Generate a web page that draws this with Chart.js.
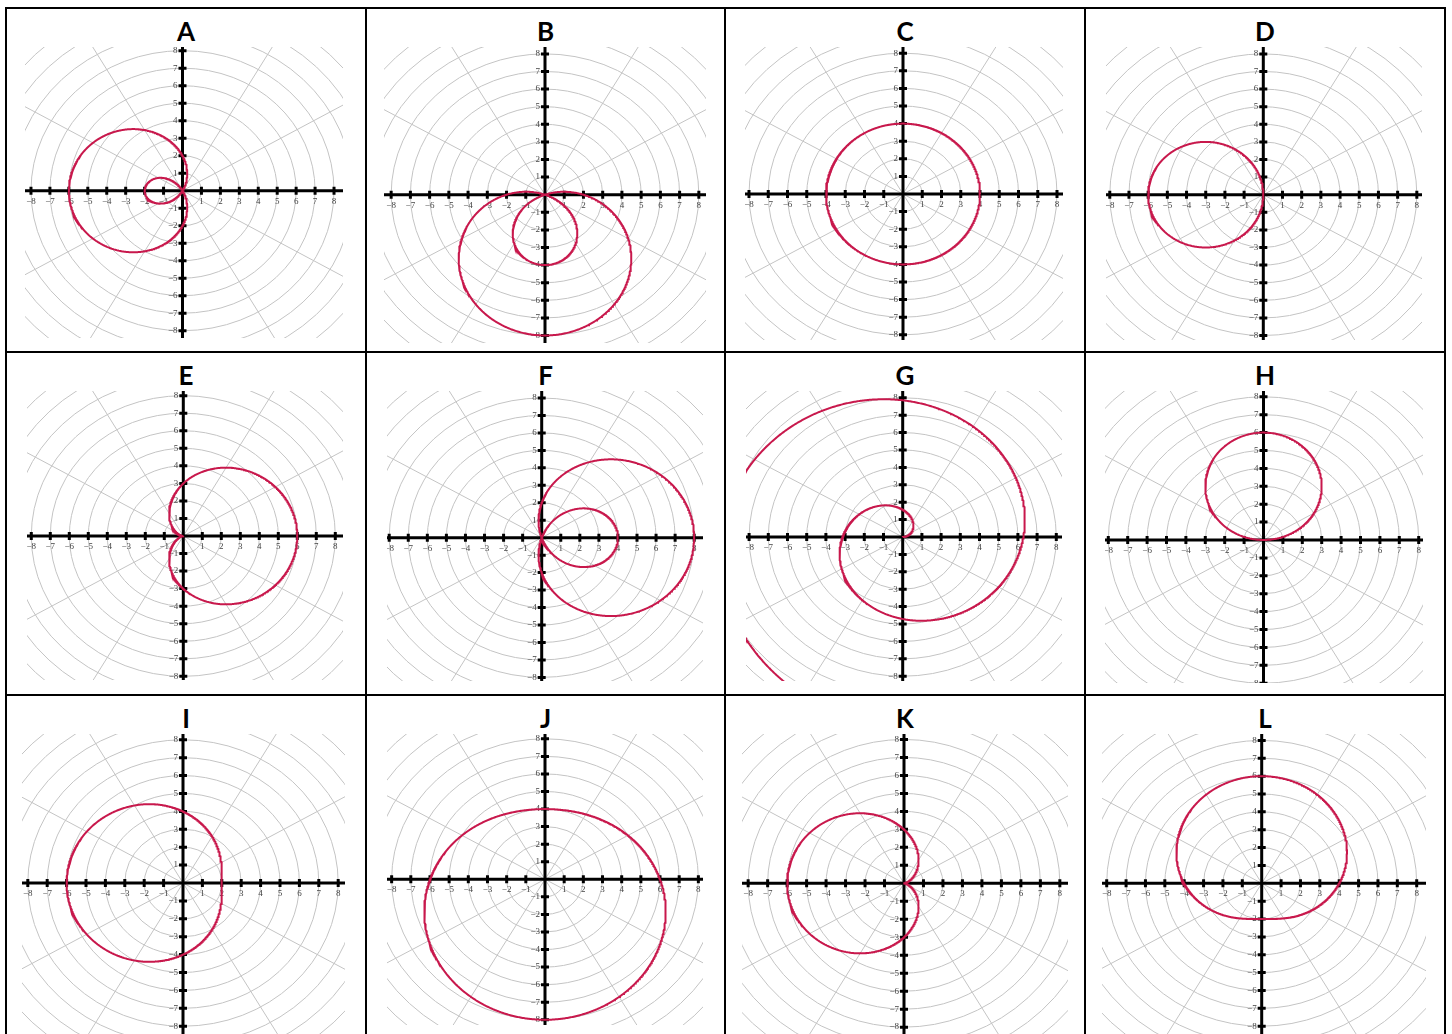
<!DOCTYPE html>
<html>
<head>
<meta charset="utf-8">
<script src="https://cdn.jsdelivr.net/npm/chart.js@4/dist/chart.umd.min.js"></script>
<style>
  html, body { margin: 0; padding: 0; background: #fff; }
  #sheet { position: relative; width: 1452px; height: 1034px; overflow: hidden; background: #fff; }
  .rule { position: absolute; background: #000; }
  .letter { position: absolute; width: 360px; text-align: center; font-family: Lato, "Open Sans", sans-serif;
            font-weight: 700; font-size: 26px; line-height: 26px; color: #000; }
  canvas { position: absolute; }
</style>
</head>
<body>
<div id="sheet"></div>
<script>
// Panel names, read across the rows
const panelLetters = ['A', 'B', 'C', 'D', 'E', 'F', 'G', 'H', 'I', 'J', 'K', 'L'];

// Each curve is r = c + p·cosθ + q·sinθ + k·θ, traced over the given number of turns
const rConstant = [2, 2, 4, 0, 3, 2, 0, 0, 4, 6, 3, 4];
const rCosine   = [-4, 0, 0, -6, 3, 6, 0, 0, -2, 0, -3, 0];
const rSine     = [0, -6, 0, 0, 0, 0, 0, 6, 0, -2, 0, 2];
const rTheta    = [0, 0, 0, 0, 0, 0, 1, 0, 0, 0, 0, 0];
const sweepTurns = [1, 1, 1, 1, 1, 1, 2, 1, 1, 1, 1, 1];

// Polar paper: rings and spokes, plus the integer ticks on both axes
const gridRadii = [1, 2, 3, 4, 5, 6, 7, 8, 9, 10, 11, 12];
const spokeDegrees = [0, 30, 60, 90, 120, 150, 180, 210, 240, 270, 300, 330];
const axisTicks = [-8, -7, -6, -5, -4, -3, -2, -1, 1, 2, 3, 4, 5, 6, 7, 8];
const axisTickLabels = ['−8', '−7', '−6', '−5', '−4', '−3', '−2', '−1', '1', '2', '3', '4', '5', '6', '7', '8'];

// Where each plot sits on the sheet: [left, top, right, bottom, originX, originY, pxPerUnitX, pxPerUnitY]
const panelFrames = [
  [25, 47, 343, 338, 182.5, 190.7, 18.94, 17.5],
  [384, 47, 706, 343, 545, 194.7, 19.23, 17.6],
  [745, 47, 1063, 340, 903, 194, 19.25, 17.6],
  [1106, 47, 1422, 340, 1263.3, 194.7, 19.19, 17.6],
  [27, 391, 343, 680, 183.3, 536, 19.0, 17.54],
  [387, 391, 703, 681, 541.7, 537.7, 19.06, 17.46],
  [746, 391, 1062, 681, 902.7, 537, 19.2, 17.4],
  [1105, 391, 1423, 683, 1263.5, 540, 19.4, 17.9],
  [22, 734, 345, 1034, 183, 883, 19.4, 17.9],
  [387, 734, 703, 1025, 545, 879.3, 19.17, 17.56],
  [742, 734, 1068, 1034, 904, 883.3, 19.48, 17.98],
  [1102, 734, 1426, 1034, 1261.7, 883.3, 19.375, 17.86]
];

const columnRules = [5, 365, 724, 1084, 1444];
const rowRules = [7, 351, 694];
const letterTops = [18, 362, 705];

const curveColor = '#c8184c';
const paperColor = '#c4c4c4';

const sheet = document.getElementById('sheet');

// Table rules
columnRules.forEach(x => {
  const d = document.createElement('div');
  d.className = 'rule';
  Object.assign(d.style, { left: x + 'px', top: rowRules[0] + 'px', width: '2px', height: (1034 - rowRules[0]) + 'px' });
  sheet.appendChild(d);
});
rowRules.forEach(y => {
  const d = document.createElement('div');
  d.className = 'rule';
  Object.assign(d.style, { left: columnRules[0] + 'px', top: y + 'px', width: (columnRules[4] - columnRules[0] + 2) + 'px', height: '2px' });
  sheet.appendChild(d);
});

// Draws rings, spokes, axes and tick labels beneath the curves
const polarPaper = {
  id: 'polarPaper',
  beforeDatasetsDraw(chart) {
    const { ctx, chartArea: a, scales: { x, y } } = chart;
    const cx = x.getPixelForValue(0), cy = y.getPixelForValue(0);
    const ux = x.getPixelForValue(1) - cx, uy = cy - y.getPixelForValue(1);
    ctx.save();
    ctx.beginPath();
    ctx.rect(a.left, a.top, a.right - a.left, a.bottom - a.top);
    ctx.clip();

    ctx.strokeStyle = paperColor;
    ctx.lineWidth = 1;
    gridRadii.forEach(r => {
      ctx.beginPath();
      ctx.ellipse(cx, cy, r * ux, r * uy, 0, 0, Math.PI * 2);
      ctx.stroke();
    });
    spokeDegrees.forEach(deg => {
      const t = deg * Math.PI / 180;
      ctx.beginPath();
      ctx.moveTo(cx, cy);
      ctx.lineTo(x.getPixelForValue(20 * Math.cos(t)), y.getPixelForValue(20 * Math.sin(t)));
      ctx.stroke();
    });

    ctx.strokeStyle = '#000';
    ctx.lineWidth = 3;
    ctx.beginPath();
    ctx.moveTo(a.left, cy); ctx.lineTo(a.right, cy);
    ctx.moveTo(cx, a.top); ctx.lineTo(cx, a.bottom);
    ctx.stroke();

    ctx.lineWidth = 3;
    ctx.beginPath();
    axisTicks.forEach(v => {
      const px = x.getPixelForValue(v);
      ctx.moveTo(px, cy - 4); ctx.lineTo(px, cy + 4);
      const py = y.getPixelForValue(v);
      ctx.moveTo(cx - 4, py); ctx.lineTo(cx + 4, py);
    });
    ctx.stroke();

    ctx.fillStyle = '#444';
    ctx.font = '9px "Liberation Serif", serif';
    ctx.textAlign = 'center';
    ctx.textBaseline = 'top';
    axisTicks.forEach((v, i) => {
      ctx.fillText(axisTickLabels[i], x.getPixelForValue(v), cy + 6);
    });
    ctx.textAlign = 'right';
    ctx.textBaseline = 'middle';
    axisTicks.forEach((v, i) => {
      ctx.fillText(axisTickLabels[i], cx - 5, y.getPixelForValue(v));
    });
    ctx.restore();
  }
};

function tracePoints(i) {
  const steps = 900 * sweepTurns[i];
  const end = 2 * Math.PI * sweepTurns[i];
  const pts = [];
  for (let s = 0; s <= steps; s++) {
    const t = end * s / steps;
    const r = rConstant[i] + rCosine[i] * Math.cos(t) + rSine[i] * Math.sin(t) + rTheta[i] * t;
    pts.push({ x: r * Math.cos(t), y: r * Math.sin(t) });
  }
  return pts;
}

panelLetters.forEach((letter, i) => {
  const col = i % 4, row = Math.floor(i / 4);
  const label = document.createElement('div');
  label.className = 'letter';
  label.textContent = letter;
  label.style.left = (columnRules[col] + 1) + 'px';
  label.style.width = (columnRules[col + 1] - columnRules[col]) + 'px';
  label.style.top = letterTops[row] + 'px';
  sheet.appendChild(label);

  const [left, top, right, bottom, ox, oy, ux, uy] = panelFrames[i];
  const w = Math.round(right - left), h = Math.round(bottom - top);
  const canvas = document.createElement('canvas');
  canvas.width = w; canvas.height = h;
  canvas.style.left = left + 'px'; canvas.style.top = top + 'px';
  canvas.style.width = w + 'px'; canvas.style.height = h + 'px';
  sheet.appendChild(canvas);

  new Chart(canvas, {
    type: 'scatter',
    data: {
      datasets: [{
        label: letter,
        data: tracePoints(i),
        showLine: true,
        pointRadius: 0,
        borderColor: curveColor,
        borderWidth: 2,
        fill: false,
        tension: 0
      }]
    },
    options: {
      responsive: false,
      animation: false,
      devicePixelRatio: 1,
      layout: { padding: 0 },
      plugins: { legend: { display: false }, tooltip: { enabled: false }, title: { display: false } },
      scales: {
        x: { type: 'linear', display: false, min: (left - ox) / ux, max: (right - ox) / ux },
        y: { type: 'linear', display: false, min: (oy - bottom) / uy, max: (oy - top) / uy }
      }
    },
    plugins: [polarPaper]
  });
});
</script>
</body>
</html>
